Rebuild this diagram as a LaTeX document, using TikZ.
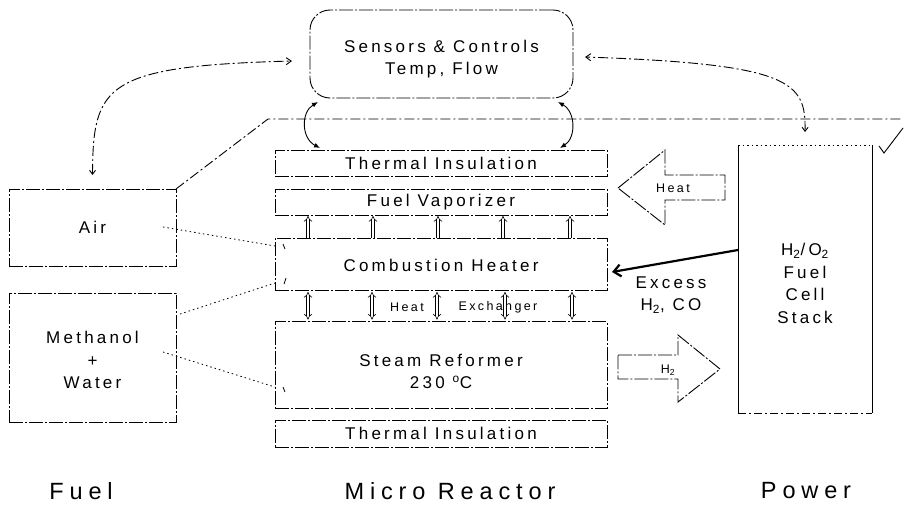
\documentclass[tikz,border=0pt]{standalone}
\usepackage{fontspec}
\setmainfont{Liberation Sans}[LetterSpace=19]
\newfontfamily\bigfont{Liberation Sans}[LetterSpace=25]
\usetikzlibrary{arrows.meta,calc}
\newcommand{\lines}[2]{\raisebox{#1}[\height][\depth]{\begin{tabular}{@{}c@{}}#2\end{tabular}}}
\tikzset{
  bx/.style={draw, line width=0.9pt, dash pattern=on 14pt off 2pt on 2pt off 2pt,
    inner sep=0pt, outer sep=0pt, align=center, font=\fontsize{17}{22.5}\selectfont},
  dd/.style={line width=0.9pt, dash pattern=on 10pt off 3pt on 2pt off 3pt},
  dots/.style={line width=0.8pt, dash pattern=on 1.5pt off 3pt},
  tick/.style={line width=0.8pt},
  dblup/.style={double, double distance=2.4pt, line width=0.6pt},
  lbl/.style={inner sep=0pt, font=\fontsize{17}{22.5}\selectfont, align=center},
  small/.style={inner sep=0pt, font=\fontsize{12.5}{14}\selectfont},
  big/.style={inner sep=0pt, font=\bigfont\fontsize{23.5}{28}\selectfont},
}
\begin{document}
\begin{tikzpicture}[x=1pt,y=-1pt]
\useasboundingbox[fill=white] (0,0) rectangle (904,504);

% reactor stack
\node[bx, rounded corners=20pt, minimum width=263pt, minimum height=88pt] (sens) at (441.5,54)
  {\lines{-5pt}{Sensors \& Controls\\Temp, Flow}};
\node[bx, minimum width=332pt, minimum height=26pt] (ti1) at (441,163) {Thermal Insulation};
\node[bx, minimum width=332pt, minimum height=26pt] (fv) at (441,202) {Fuel Vaporizer};
\node[bx, minimum width=332pt, minimum height=52pt] (ch) at (441,264) {\lines{-3pt}{Combustion Heater}};
\node[bx, minimum width=332pt, minimum height=87pt] (sr) at (441,365)
  {\lines{-8pt}{Steam Reformer\\230 \textsuperscript{o}C}};
\node[bx, minimum width=332pt, minimum height=27pt] (ti2) at (441,433.5) {Thermal Insulation};

% fuel side
\node[bx, minimum width=167pt, minimum height=77pt] (air) at (92.5,227.5) {Air};
\node[bx, minimum width=167pt, minimum height=129pt] (meth) at (92.5,357.5)
  {\lines{-4pt}{\fontsize{17}{24.5}\selectfont Methanol\\\fontsize{17}{24.5}\selectfont +\\\fontsize{17}{24.5}\selectfont Water}};

% fuel cell
\node[inner sep=0pt, outer sep=0pt, minimum width=134pt, minimum height=268pt,
  align=center, font=\fontsize{17}{22.7}\selectfont] (fc) at (805,279)
  {\lines{-6pt}{H\textsubscript{2}/O\textsubscript{2}\\Fuel\\Cell\\Stack}};
\draw[line width=0.9pt] (fc.north west) -- (fc.south west);
\draw[line width=0.9pt] (fc.north east) -- (fc.south east);
\draw[dots] (fc.north west) -- (fc.north east);
\draw[line width=0.9pt, dash pattern=on 8pt off 3pt on 2pt off 3pt] (fc.south west) -- (fc.south east);

% bottom labels
\node[big] (lfuel) at (81,491) {Fuel};
\node[big] (lmr) at (450,491) {Micro Reactor};
\node[big] (lpow) at (806,491) {Power};

% heat exchanger label
\node[small] (hx1) at (407,307) {Heat};
\node[small] (hx2) at (498,307) {Exchanger};

% excess label
\node[lbl] (exc) at (671,295) {Excess\\H\textsubscript{2}, CO};

% heat block arrow
\draw[line width=0.9pt, dash pattern=on 14pt off 2pt on 2pt off 2pt] (618,188) -- (665,150) -- (665,175) -- (725,175) -- (725,200) -- (665,200) -- (665,225) -- cycle;
\node[small] (heat) at (673,188) {Heat};

% H2 block arrow
\draw[line width=0.9pt, dash pattern=on 14pt off 2pt on 2pt off 2pt] (618,355) -- (678,355) -- (678,335) -- (720,369) -- (678,402) -- (678,379) -- (618,379) -- cycle;
\node[small] (hh) at (668,370) {H\textsubscript{2}};

% vaporizer arrows
\foreach \x in {308,373,438,503,570}
  \draw[dblup, -{Implies}] (\x,0 |- ch.north) -- ([yshift=-1pt]\x,0 |- fv.south);
% heat exchanger arrows
\foreach \x in {308,372,437,505,572}
  \draw[dblup, {Implies}-{Implies}] ([yshift=-2pt]\x,0 |- ch.south) -- ([yshift=2pt]\x,0 |- sr.north);

% sensor loops
\draw[dd, {Straight Barb[length=4pt,width=6pt]}-{Straight Barb[length=5pt,width=7pt]}]
  ([yshift=14pt]air.north) .. controls (93,85) and (105,66) .. ([xshift=-18pt,yshift=-7pt]sens.west);
\draw[dd, {Straight Barb[length=4pt,width=6pt]}-{Straight Barb[length=5pt,width=7pt]}]
  ([yshift=13pt]fc.north) .. controls (806,82) and (792,64) .. ([xshift=12pt,yshift=-3pt]sens.east);

\draw[line width=0.9pt, {Latex[length=6pt,width=5pt]}-{Latex[length=6pt,width=5pt]}]
  ([xshift=-123.5pt,yshift=-4pt]sens.south) .. controls (301,112) and (301,138) .. ([xshift=-121pt,yshift=2pt]ti1.north);
\draw[line width=0.9pt, {Latex[length=6pt,width=5pt]}-{Latex[length=6pt,width=5pt]}]
  ([xshift=116.5pt,yshift=-4pt]sens.south) .. controls (576,112) and (576,138) .. ([xshift=119pt,yshift=2pt]ti1.north);

% air line across
\coordinate (rend) at (902,119);
\draw[dd] (air.north east) -- (268,119) -- (rend);
\draw[line width=0.9pt] (879,146) -- (884,153) -- (903,128);

% dotted feeds
\coordinate (airdot) at (163,227);
\coordinate (methdot) at (163,352);
\draw[dots] (airdot) -- ([yshift=18pt]ch.west);
\draw[dots] ([xshift=4pt,yshift=-21pt]meth.north east) -- ([yshift=-19pt]ch.west);
\draw[dots] (methdot) -- ([yshift=-22pt]sr.west);
\draw[tick] (283,244) -- (285,249);
\draw[tick] (286,278) -- (284,284);
\draw[tick] (283,387) -- (285,392);

% excess arrow
\draw[line width=2.2pt, -{Straight Barb[length=7pt,width=12pt]}] ([yshift=29pt]fc.west) -- ([xshift=5pt,yshift=-8pt]ch.east);
\end{tikzpicture}
\end{document}
